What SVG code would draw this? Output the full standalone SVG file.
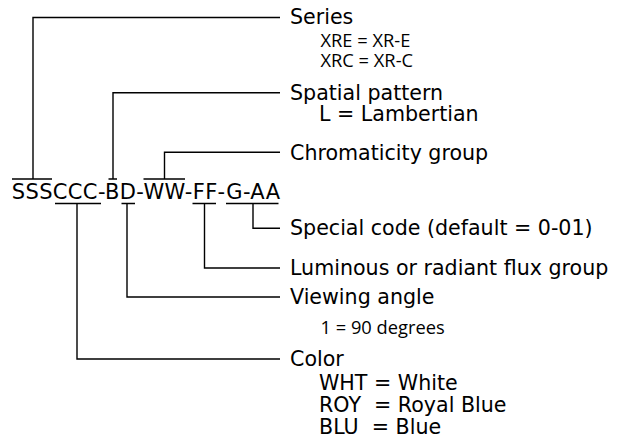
<svg xmlns="http://www.w3.org/2000/svg" width="626" height="445" viewBox="0 0 626 445">
<style>
.bg{fill:#fff}
.ln{fill:none;stroke:#000;stroke-width:1.4}
.code{font-family:"DejaVu Sans",Verdana,sans-serif;font-size:21px;letter-spacing:0.35px;fill:#000}
.lbl{font-family:"DejaVu Sans",Verdana,sans-serif;font-size:20.6px;fill:#000;white-space:pre}
.sub{font-family:"Open Sans","Noto Sans",sans-serif;font-size:18.3px;fill:#000}
</style>
<rect class="bg" x="0" y="0" width="626" height="445"/>
<g id="code">
<text class="code" x="11.8" y="199">SSSCCC-BD-WW-FF-G-AA</text>
</g>
<g id="connectors">
<path class="ln" d="M12 179H52M33 179V17.5H280"/>
<path class="ln" d="M108.5 179H117M113 179V92.7H280"/>
<path class="ln" d="M143.5 179H185M164.5 179V152.3H280"/>
<path class="ln" d="M55 203.5H101M77 203.5V359H280"/>
<path class="ln" d="M121.5 203.5H135M127 203.5V297H280"/>
<path class="ln" d="M192.5 203.5H216M204.5 203.5V268H280"/>
<path class="ln" d="M226 203.5H278.5M253 203.5V228.3H280"/>
</g>
<g id="series">
<text class="lbl" x="290" y="23.5">Series</text>
<text class="sub" x="320.5" y="47">XRE = XR-E</text>
<text class="sub" x="320.5" y="67">XRC = XR-C</text>
</g>
<g id="spatial">
<text class="lbl" x="290" y="100">Spatial pattern</text>
<text class="lbl" x="319" y="121">L = Lambertian</text>
</g>
<g id="chromaticity">
<text class="lbl" x="290" y="160">Chromaticity group</text>
</g>
<g id="special">
<text class="lbl" x="290" y="235">Special code (default = 0-01)</text>
</g>
<g id="luminous">
<text class="lbl" x="290" y="274.5">Luminous or radiant flux group</text>
</g>
<g id="viewing">
<text class="lbl" x="290" y="304">Viewing angle</text>
<text class="sub" x="320.5" y="334">1 = 90 degrees</text>
</g>
<g id="color">
<text class="lbl" x="290" y="366">Color</text>
<text class="lbl" x="319" y="390">WHT = White</text>
<text class="lbl" x="319" y="412">ROY  = Royal Blue</text>
<text class="lbl" x="319" y="434">BLU  = Blue</text>
</g>
</svg>
